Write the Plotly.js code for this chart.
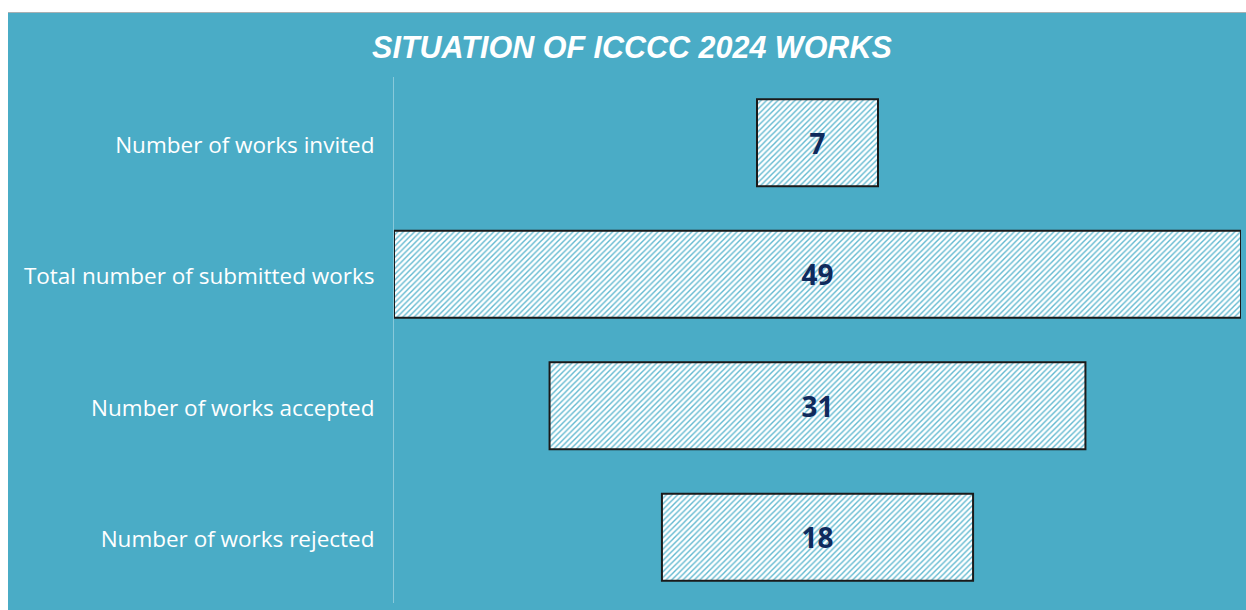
<!DOCTYPE html>
<html>
<head>
<meta charset="utf-8">
<script src="https://cdn.plot.ly/plotly-3.0.1.min.js"></script>
<style>
  html, body { margin: 0; padding: 0; background: #ffffff; width: 1246px; height: 610px; overflow: hidden; }
  #chart { position: absolute; left: 8px; top: 12px; width: 1238px; height: 598px; border-top: 1px solid #a7b0b3; box-sizing: border-box; }
</style>
</head>
<body>
<div id="chart"></div>
<script>
const categories = [
  "Number of works invited",
  "Total number of submitted works",
  "Number of works accepted",
  "Number of works rejected"
];
const values = [7, 49, 31, 18];
const chartTitle = "SITUATION OF ICCCC 2024 WORKS";

const maxVal = Math.max.apply(null, values);
const bases = values.map(v => -v / 2);

const trace = {
  type: "bar",
  orientation: "h",
  y: categories,
  x: values,
  base: bases,
  text: values.map(String),
  textposition: "inside",
  insidetextanchor: "middle",
  textangle: 0,
  textfont: { family: "Open Sans, sans-serif", size: 28, color: "#0f2a5c", weight: 700 },
  marker: {
    color: "#ffffff",
    line: { color: "#1a1a1a", width: 2 },
    pattern: { shape: "/", fgcolor: "#62b9d0", bgcolor: "#ffffff", size: 4, solidity: 0.35, fillmode: "replace" }
  },
  width: 0.66,
  hoverinfo: "skip",
  cliponaxis: false
};

const layout = {
  width: 1238,
  height: 597,
  paper_bgcolor: "#4aacc6",
  plot_bgcolor: "#4aacc6",
  margin: { l: 386, r: 5, t: 64, b: 7, pad: 0 },
  showlegend: false,
  title: {
    text: "<b><i>" + chartTitle + "</i></b>",
    font: { family: "Liberation Sans, Arial, sans-serif", size: 30.5, color: "#ffffff" },
    xref: "container", x: 0.504, xanchor: "center",
    yref: "container", y: 1 - 34 / 597, yanchor: "middle"
  },
  xaxis: {
    range: [-maxVal / 2, maxVal / 2],
    visible: false,
    fixedrange: true
  },
  yaxis: {
    type: "category",
    autorange: "reversed",
    showgrid: false,
    zeroline: false,
    showline: true,
    linecolor: "rgba(255,255,255,0.35)",
    linewidth: 1,
    ticks: "",
    ticklabelstandoff: 14,
    ticklabelshift: -2,
    tickfont: { family: "Open Sans, sans-serif", size: 22.5, color: "#ffffff" },
    fixedrange: true
  },
  bargap: 0.34
};

Plotly.newPlot("chart", [trace], layout, { displayModeBar: false, staticPlot: true });
</script>
</body>
</html>
